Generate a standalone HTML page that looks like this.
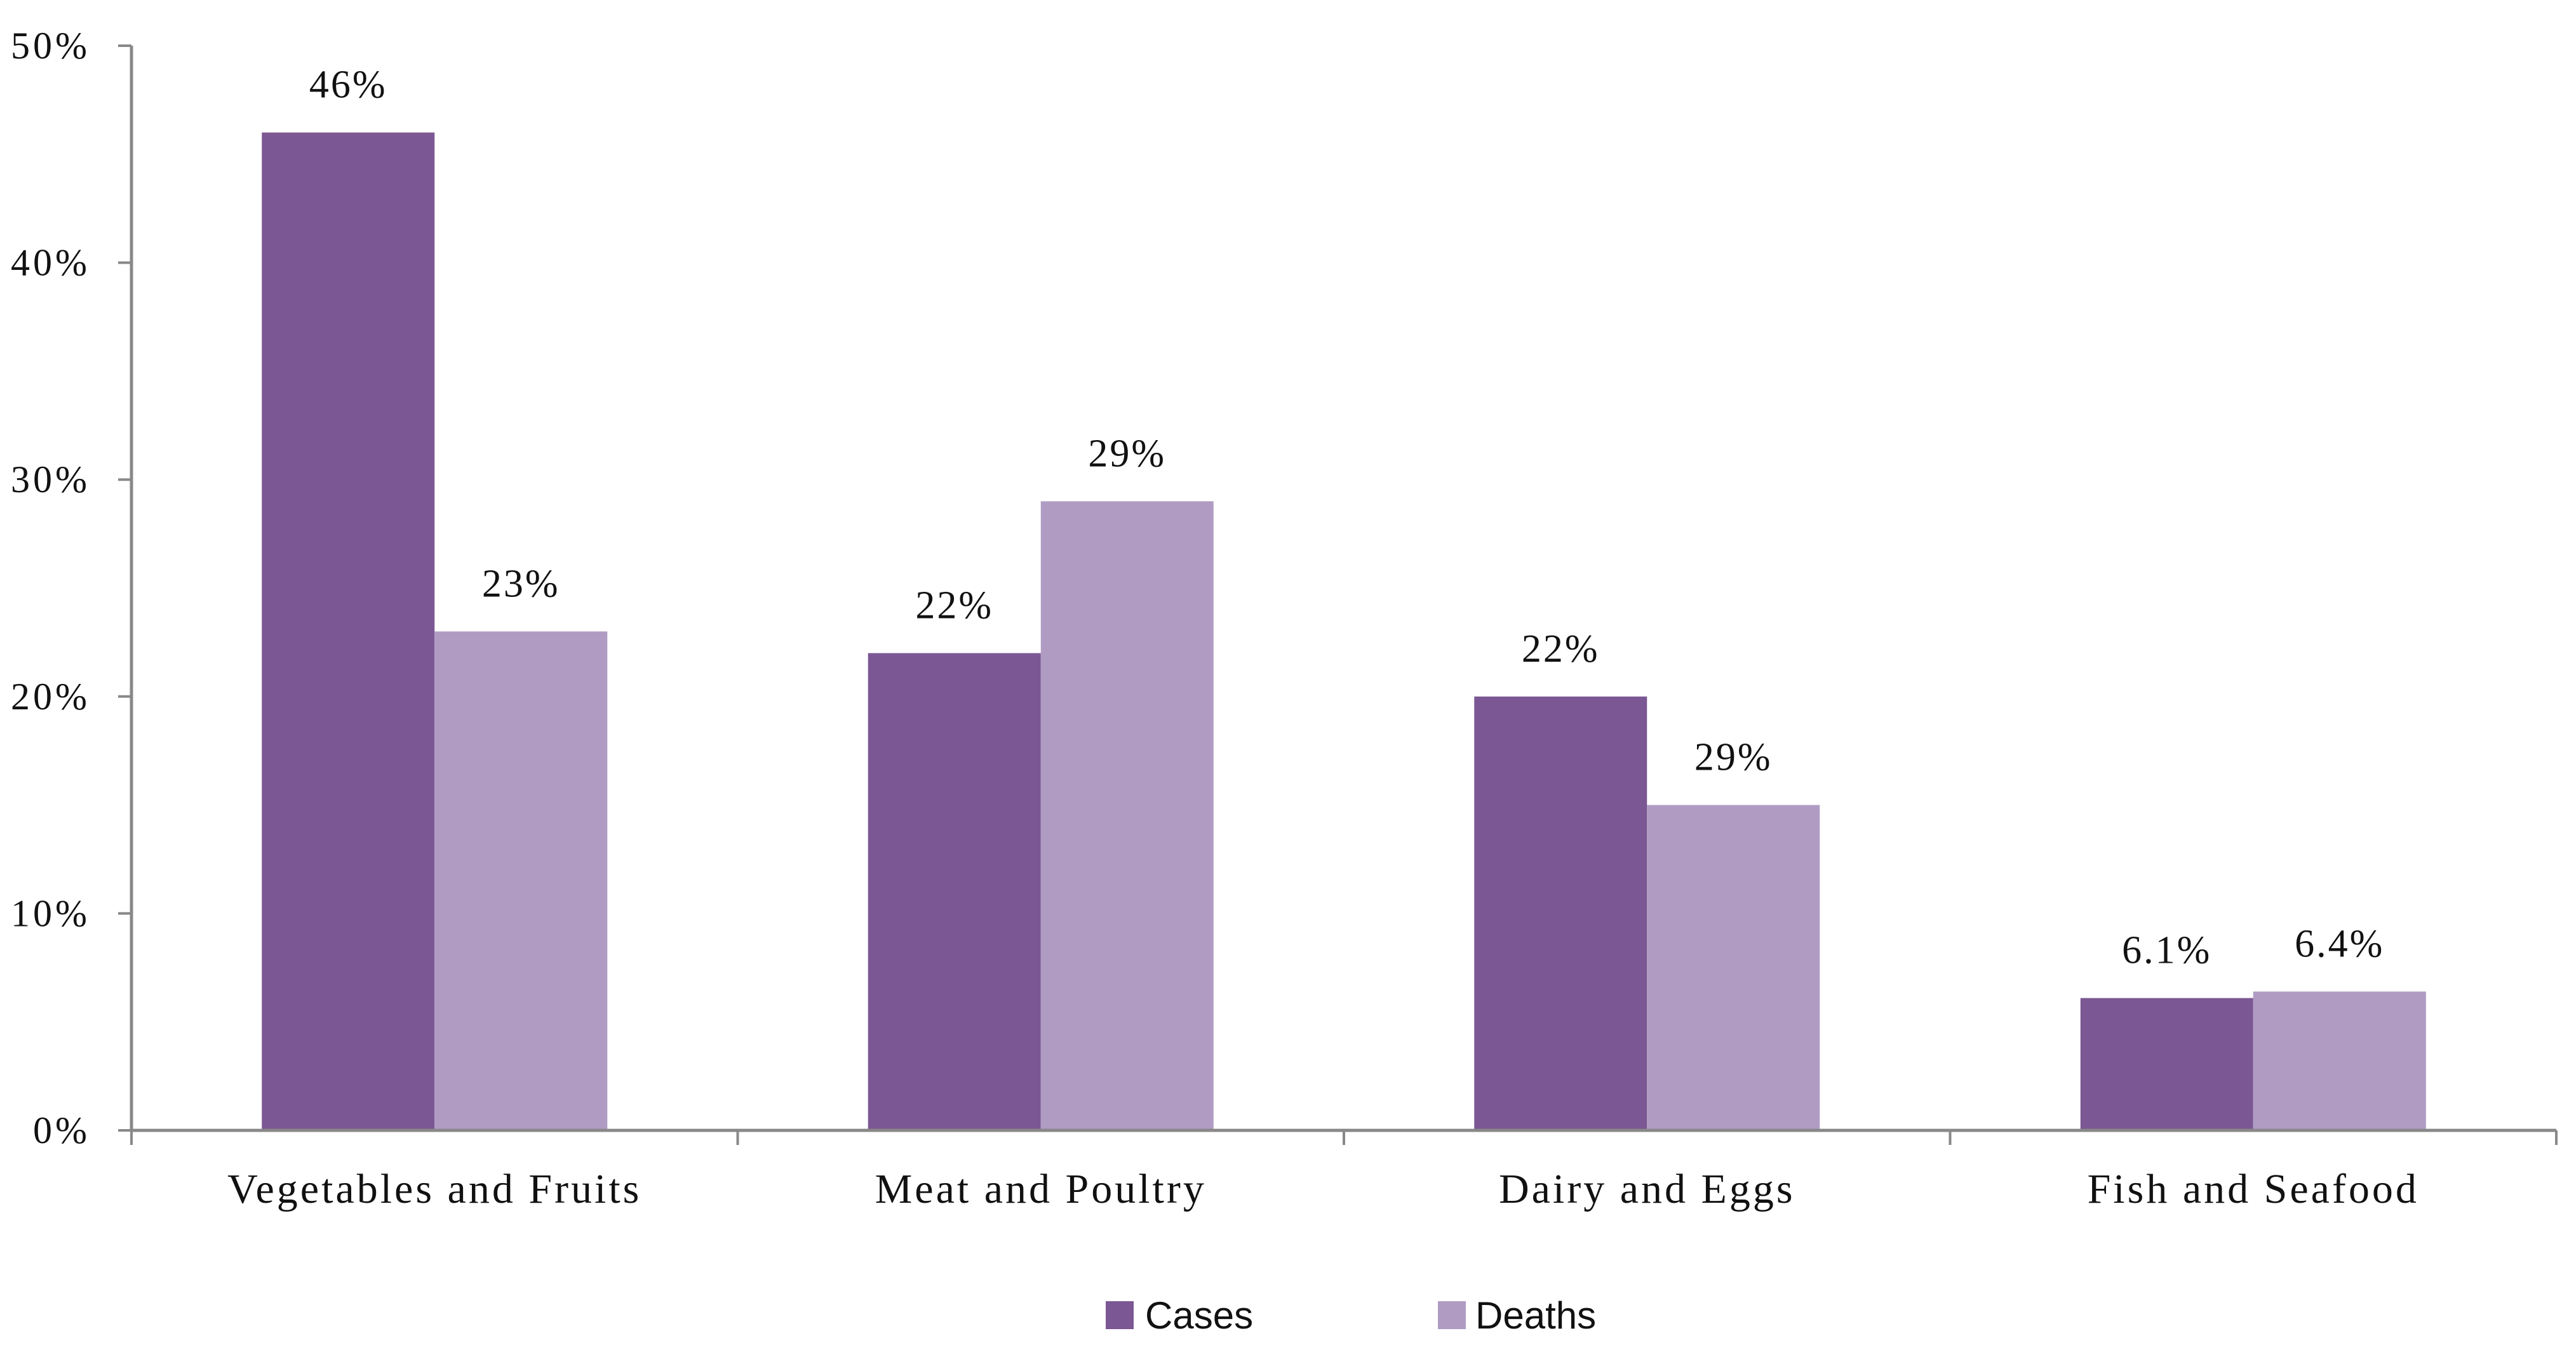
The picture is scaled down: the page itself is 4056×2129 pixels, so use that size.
<!DOCTYPE html>
<html><head><meta charset="utf-8"><style>
html,body{margin:0;padding:0;background:#fff;}
svg{display:block;}
</style></head><body>
<svg id="chart" width="4056" height="2129" viewBox="0 0 4056 2129" xmlns="http://www.w3.org/2000/svg"></svg>
<script>
const categories = ["Vegetables and Fruits","Meat and Poultry","Dairy and Eggs","Fish and Seafood"];
const casesValues = [46, 22, 20, 6.1];
const deathsValues = [23, 29, 15, 6.4];
const casesLabels = ["46%","22%","22%","6.1%"];
const deathsLabels = ["23%","29%","29%","6.4%"];
const yTicks = [0,10,20,30,40,50];
const yTickLabels = ["0%","10%","20%","30%","40%","50%"];

const NS="http://www.w3.org/2000/svg";
const svg=document.getElementById('chart');
const X0=207, X1=4025, Y0=1780, Ytop=72, YMAX=50;
const groupW=(X1-X0)/categories.length, barW=272;
function y(v){return Y0-(v/YMAX)*(Y0-Ytop);}
function mk(tag,attrs,text){const e=document.createElementNS(NS,tag);for(const k in attrs)e.setAttribute(k,attrs[k]);if(text!==undefined)e.textContent=text;svg.appendChild(e);return e;}

yTicks.forEach((t,i)=>{
  const tk=mk('line',{x1:186,x2:X0,y1:y(t),y2:y(t),stroke:'#888','stroke-width':4});
  
  
  const l=mk('text',{x:142,y:y(t)+20,'text-anchor':'end','font-family':'"Liberation Serif",serif','font-size':60,'letter-spacing':5,fill:'#111'},yTickLabels[i]);
  
  
});

categories.forEach((c,i)=>{
  const cx=X0+groupW*(i+0.5);
  const r1=mk('rect',{x:cx-barW,y:y(casesValues[i]),width:barW,height:Y0-y(casesValues[i]),fill:'#7b5793'});
  
  
  const r2=mk('rect',{x:cx,y:y(deathsValues[i]),width:barW,height:Y0-y(deathsValues[i]),fill:'#b09cc3'});
  
  
  const l1=mk('text',{x:cx-barW/2,y:y(casesValues[i])-55,'text-anchor':'middle','font-family':'"Liberation Serif",serif','font-size':62,'letter-spacing':3,fill:'#111'},casesLabels[i]);
  
  
  const l2=mk('text',{x:cx+barW/2,y:y(deathsValues[i])-55,'text-anchor':'middle','font-family':'"Liberation Serif",serif','font-size':62,'letter-spacing':3,fill:'#111'},deathsLabels[i]);
  
  
  const cl=mk('text',{x:cx,y:1894,'text-anchor':'middle','font-family':'"Liberation Serif",serif','font-size':66,'letter-spacing':4,fill:'#111'},c);
  
  
});
for(let i=0;i<=categories.length;i++){
  const tx=X0+groupW*i;
  const t=mk('line',{x1:tx,x2:tx,y1:Y0,y2:1803,stroke:'#888','stroke-width':4});
  
  
}
const ya=mk('line',{x1:X0,x2:X0,y1:Ytop,y2:Y0,stroke:'#888','stroke-width':5});


const xa=mk('line',{x1:X0,x2:X1,y1:Y0,y2:Y0,stroke:'#888','stroke-width':5});



const s1=mk('rect',{x:1741,y:2049,width:44,height:44,fill:'#7b5793'});


const t1=mk('text',{x:1803,y:2092,'font-family':'"Liberation Sans",sans-serif','font-size':60,fill:'#111'},'Cases');


const s2=mk('rect',{x:2264,y:2049,width:44,height:44,fill:'#b09cc3'});


const t2=mk('text',{x:2323,y:2092,'font-family':'"Liberation Sans",sans-serif','font-size':60,fill:'#111'},'Deaths');


</script>
</body></html>
